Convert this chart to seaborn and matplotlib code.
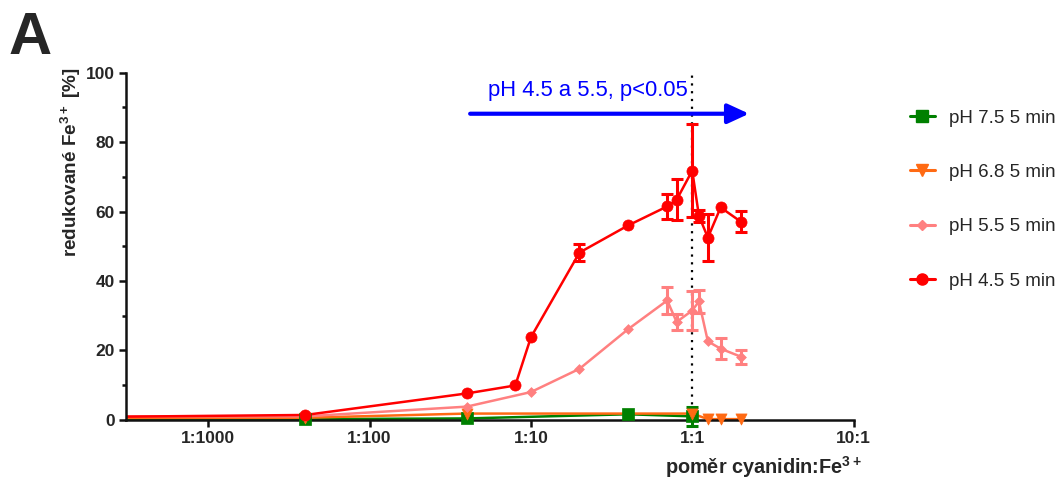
import numpy as np
import pandas as pd
import matplotlib
matplotlib.use("Agg")
import matplotlib.pyplot as plt
from matplotlib.lines import Line2D
import seaborn as sns

# ---------------- data ----------------
red_x = [1e-4, 0.004, 0.04, 0.08, 0.1, 0.2, 0.4, 0.7, 0.8, 1.0, 1.1, 1.25, 1.5, 2.0]
red_y = [0.7, 1.4, 7.6, 9.9, 23.8, 48.2, 56.0, 61.5, 63.4, 71.8, 58.8, 52.5, 61.2, 57.1]
red_e = [0, 0, 0, 0, 0, 2.5, 0, 3.6, 5.9, 13.5, 1.7, 6.8, 0, 3.1]

pink_x = [1e-4, 0.004, 0.04, 0.1, 0.2, 0.4, 0.7, 0.8, 1.0, 1.1, 1.25, 1.5, 2.0]
pink_y = [1.0, 1.0, 3.8, 8.0, 14.7, 26.1, 34.4, 28.2, 31.5, 34.1, 22.6, 20.5, 18.2]
pink_e = [0, 0, 0, 0, 0, 0, 4.0, 2.2, 5.6, 3.2, 0, 3.0, 2.0]

orange_x = [1e-4, 0.004, 0.04, 1.0, 1.25, 1.5, 2.0]
orange_y = [0.5, 0.6, 1.8, 1.8, 0.2, 0.2, 0.2]
orange_e = [0, 0, 0, 0, 0, 0, 0]

green_x = [1e-4, 0.004, 0.04, 0.4, 1.0]
green_y = [0.2, 0.2, 0.4, 1.6, 1.0]
green_e = [0, 0, 0, 0, 2.8]

labels = ["pH 7.5 5 min", "pH 6.8 5 min", "pH 5.5 5 min", "pH 4.5 5 min"]
xtick_vals = [0.001, 0.01, 0.1, 1, 10]
xtick_labels = ["1:1000", "1:100", "1:10", "1:1", "10:1"]
ytick_vals = [0, 20, 40, 60, 80, 100]

annot_text = "pH 4.5 a 5.5, p<0.05"

# ---------------- style ----------------
sns.set_style("ticks")
plt.rcParams["font.family"] = ["Liberation Sans", "DejaVu Sans"]
plt.rcParams["mathtext.fontset"] = "custom"
plt.rcParams["mathtext.bf"] = "Liberation Sans:bold"
plt.rcParams["mathtext.rm"] = "Liberation Sans"
plt.rcParams["mathtext.default"] = "bf"

fig = plt.figure(figsize=(10.59, 4.82), dpi=100)
ax = fig.add_axes([0.119, 0.129, 0.687, 0.720])

XMIN, XMAX = 10 ** -3.51, 10.0

series = [
    (green_x, green_y, green_e, "#008000", "s", 8, labels[0]),
    (orange_x, orange_y, orange_e, "#FF6A13", "v", 8, labels[1]),
    (pink_x, pink_y, pink_e, "#FF8080", "D", 5, labels[2]),
    (red_x, red_y, red_e, "#FF0000", "o", 8, labels[3]),
]

handles = []
for xs, ys, es, col, mk, ms, lab in series:
    df = pd.DataFrame({"x": xs, "y": ys, "e": es})
    sns.lineplot(data=df, x="x", y="y", color=col, linewidth=1.8, ax=ax,
                 estimator=None, sort=False, legend=False)
    vis = df[df["x"] >= XMIN]
    sns.scatterplot(data=vis, x="x", y="y", color=col, marker=mk, s=ms ** 2,
                    edgecolor=col, linewidth=0.5, ax=ax, legend=False,
                    clip_on=False, zorder=4)
    eb = vis[vis["e"] > 0]
    ax.errorbar(eb["x"], eb["y"], yerr=eb["e"], fmt="none", ecolor=col,
                elinewidth=2.2, capsize=4, capthick=2.2, clip_on=False, zorder=4)
    handles.append(Line2D([0], [0], color=col, lw=2.2, marker=mk, markersize=ms,
                          markeredgecolor=col, label=lab))

ax.set_xscale("log")
ax.set_xlim(XMIN, XMAX)
ax.set_ylim(0, 100)
ax.set_xticks(xtick_vals)
ax.set_xticklabels(xtick_labels)
ax.xaxis.set_minor_locator(matplotlib.ticker.NullLocator())
ax.set_yticks(ytick_vals)
ax.yaxis.set_minor_locator(matplotlib.ticker.MultipleLocator(10))
for lab in ax.get_xticklabels() + ax.get_yticklabels():
    lab.set_fontweight("bold")
    lab.set_fontsize(12.5)
ax.tick_params(axis="both", which="major", length=5, width=1.8, pad=3, color="#111111")
ax.tick_params(axis="y", which="minor", length=3, width=1.8, color="#111111")

for sp in ["top", "right"]:
    ax.spines[sp].set_visible(False)
for sp in ["left", "bottom"]:
    ax.spines[sp].set_linewidth(1.8)
    ax.spines[sp].set_color("#111111")

ax.set_xlabel(r"poměr cyanidin:Fe$^{3+}$", fontsize=14.3, fontweight="bold", loc="right")
ax.xaxis.set_label_coords(1.011, -0.10)
ax.set_ylabel(r"redukované Fe$^{3+}$ [%]", fontsize=13.6, fontweight="bold", loc="top")
ax.yaxis.set_label_coords(-0.059, 1.015)

# dotted vertical line at 1:1
ax.axvline(1.0, ymin=0, ymax=1, color="black", linestyle=(0, (1, 2.5)), linewidth=1.6, zorder=1)

# significance arrow
ax.annotate("", xy=(2.25, 88.2), xytext=(0.042, 88.2),
            arrowprops=dict(arrowstyle="-|>,head_length=1.3,head_width=0.6",
                            color="#0000FF", lw=3, mutation_scale=10,
                            shrinkA=0, shrinkB=0), zorder=5)
ax.text(0.224, 95.0, annot_text, color="#0000FF", fontsize=15.8, ha="center", va="center")

fig.legend(handles=handles, loc="upper left", bbox_to_anchor=(0.852, 0.788),
           frameon=False, fontsize=13.5, labelspacing=1.98, handlelength=1.35,
           handletextpad=0.75, borderaxespad=0)

fig.text(0.008, 0.978, "A", fontsize=43, fontweight="bold", ha="left", va="top")

fig.savefig("out.png", dpi=100)
